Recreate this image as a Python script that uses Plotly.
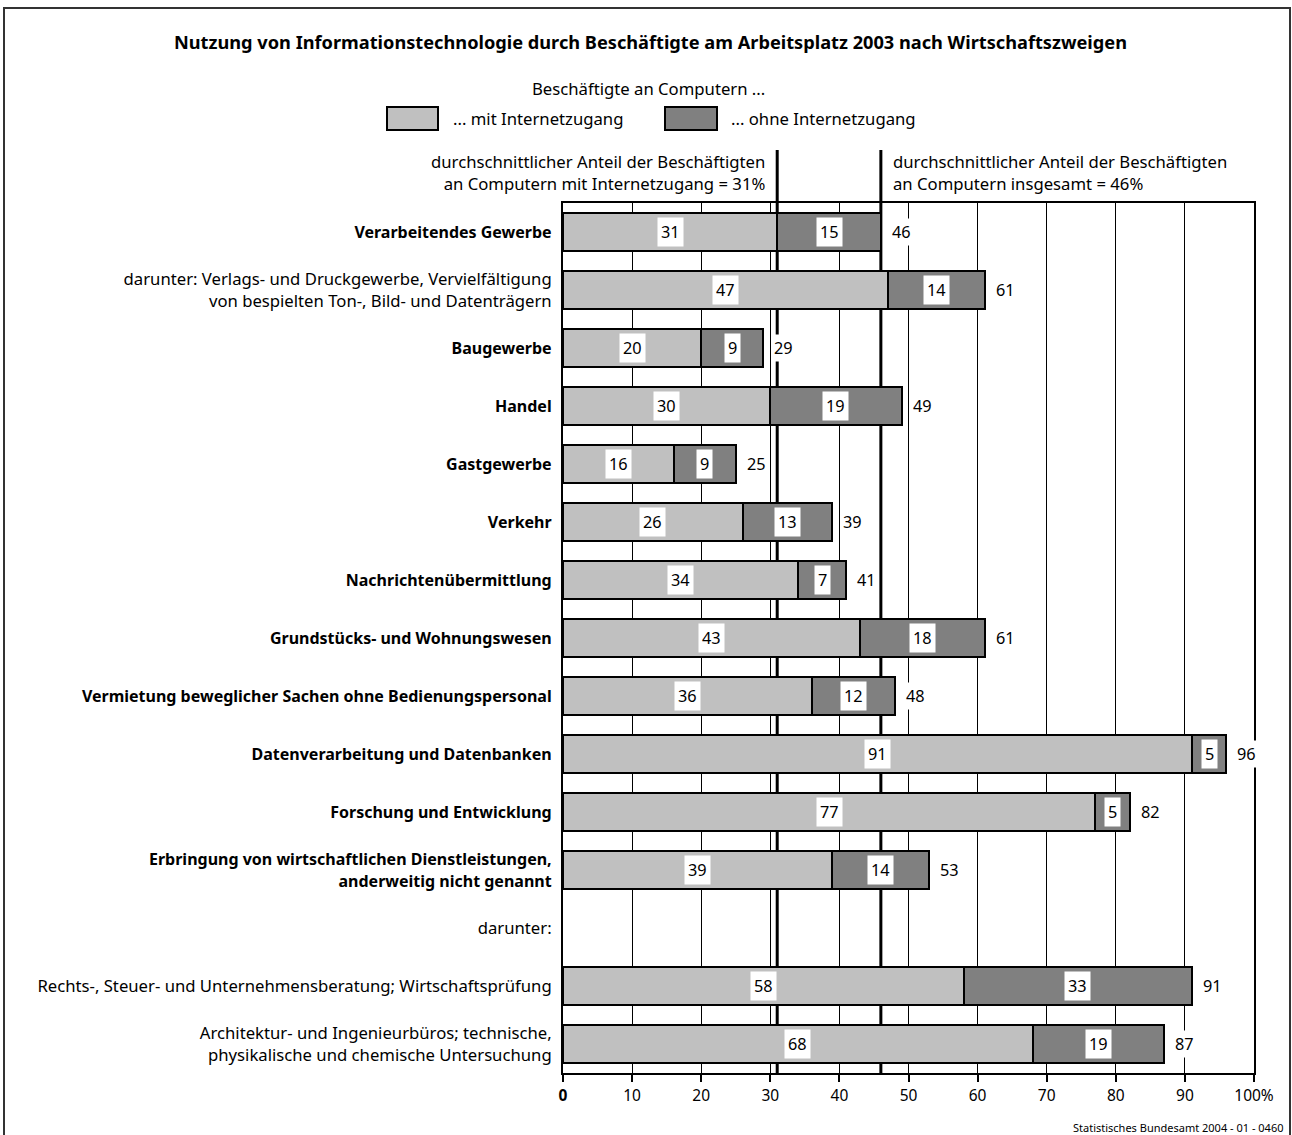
import plotly.graph_objects as go

categories = [
    "<b>Verarbeitendes Gewerbe</b>",
    "darunter: Verlags- und Druckgewerbe, Vervielfältigung<br>von bespielten Ton-, Bild- und Datenträgern",
    "<b>Baugewerbe</b>",
    "<b>Handel</b>",
    "<b>Gastgewerbe</b>",
    "<b>Verkehr</b>",
    "<b>Nachrichtenübermittlung</b>",
    "<b>Grundstücks- und Wohnungswesen</b>",
    "<b>Vermietung beweglicher Sachen ohne Bedienungspersonal</b>",
    "<b>Datenverarbeitung und Datenbanken</b>",
    "<b>Forschung und Entwicklung</b>",
    "<b>Erbringung von wirtschaftlichen Dienstleistungen,<br>anderweitig nicht genannt</b>",
    "darunter:",
    "Rechts-, Steuer- und Unternehmensberatung; Wirtschaftsprüfung",
    "Architektur- und Ingenieurbüros; technische,<br>physikalische und chemische Untersuchung",
]
mit_internet = [31, 47, 20, 30, 16, 26, 34, 43, 36, 91, 77, 39, None, 58, 68]
ohne_internet = [15, 14, 9, 19, 9, 13, 7, 18, 12, 5, 5, 14, None, 33, 19]
insgesamt = [46, 61, 29, 49, 25, 39, 41, 61, 48, 96, 82, 53, None, 91, 87]

avg_mit = 31
avg_gesamt = 46

x_tickvals = [0, 10, 20, 30, 40, 50, 60, 70, 80, 90, 100]
x_ticktext = ["<b>0</b>", "10", "20", "30", "40", "50", "60", "70", "80", "90", "100%"]

FONT = "Noto Sans"
W, H = 1292, 1135
ML, MR, MT, MB = 563, 38, 203, 62
PW = W - ML - MR
PH = H - MT - MB


def px2x(p):
    return (p - ML) / PW


def px2y(q):
    return (H - MB - q) / PH


def tick_label(s):
    # bold labels set slightly smaller to match the reference's semibold weight
    if s.startswith("<b>"):
        return '<span style="font-size:16px">' + s + "</span>"
    return s


ypos = list(range(len(categories)))

fig = go.Figure()
fig.add_trace(go.Bar(
    y=ypos, x=mit_internet, orientation="h", width=0.67,
    marker=dict(color="#c0c0c0", line=dict(color="black", width=2)),
    name="... mit Internetzugang", hoverinfo="x+name",
))
fig.add_trace(go.Bar(
    y=ypos, x=ohne_internet, orientation="h", width=0.67,
    marker=dict(color="#808080", line=dict(color="black", width=2)),
    name="... ohne Internetzugang", hoverinfo="x+name",
))

LBL = dict(family=FONT, size=16.3, color="black")
annotations = []
for i in ypos:
    a, b, t = mit_internet[i], ohne_internet[i], insgesamt[i]
    if a is None:
        continue
    annotations.append(dict(x=a / 2, y=i, xref="x", yref="y", text=str(a), showarrow=False,
                            xanchor="center", yanchor="middle",
                            bgcolor="white", borderpad=3, font=LBL))
    annotations.append(dict(x=a + b / 2, y=i, xref="x", yref="y", text=str(b), showarrow=False,
                            xanchor="center", yanchor="middle",
                            bgcolor="white", borderpad=3, font=LBL))
    annotations.append(dict(x=t, y=i, xref="x", yref="y", text=str(t), showarrow=False,
                            xanchor="left", yanchor="middle", xshift=8, bgcolor="white", borderpad=2,
                            font=LBL))

TXT = dict(family=FONT, size=16.7, color="black")
annotations += [
    dict(x=px2x(650), y=px2y(42), xref="paper", yref="paper", xanchor="center", yanchor="middle",
         text="<b>Nutzung von Informationstechnologie durch Beschäftigte am Arbeitsplatz 2003 nach Wirtschaftszweigen</b>",
         showarrow=False, font=dict(family=FONT, size=18.2, color="black")),
    dict(x=px2x(648), y=px2y(88), xref="paper", yref="paper", xanchor="center", yanchor="middle",
         text="Beschäftigte an Computern ...", showarrow=False, font=TXT),
    dict(x=px2x(451), y=px2y(118), xref="paper", yref="paper", xanchor="left", yanchor="middle",
         text="... mit Internetzugang", showarrow=False, font=TXT),
    dict(x=px2x(729), y=px2y(118), xref="paper", yref="paper", xanchor="left", yanchor="middle",
         text="... ohne Internetzugang", showarrow=False, font=TXT),
    dict(x=avg_mit, y=px2y(173), xref="x", yref="paper", xanchor="right", yanchor="middle",
         xshift=-10, align="right",
         text="durchschnittlicher Anteil der Beschäftigten<br>an Computern mit Internetzugang = " + str(avg_mit) + "%",
         showarrow=False, font=TXT),
    dict(x=avg_gesamt, y=px2y(173), xref="x", yref="paper", xanchor="left", yanchor="middle",
         xshift=10, align="left",
         text="durchschnittlicher Anteil der Beschäftigten<br>an Computern insgesamt = " + str(avg_gesamt) + "%",
         showarrow=False, font=TXT),
    dict(x=px2x(1285), y=px2y(1127), xref="paper", yref="paper", xanchor="right", yanchor="middle",
         text="Statistisches Bundesamt 2004 - 01 - 0460",
         showarrow=False, font=dict(family=FONT, size=11, color="black")),
]

shapes = [
    dict(type="line", xref="x", yref="paper", x0=avg_mit, x1=avg_mit, y0=0, y1=px2y(150),
         line=dict(color="black", width=3), layer="between"),
    dict(type="line", xref="x", yref="paper", x0=avg_gesamt, x1=avg_gesamt, y0=0, y1=px2y(150),
         line=dict(color="black", width=3), layer="between"),
    dict(type="rect", xref="paper", yref="paper", x0=px2x(387), x1=px2x(438), y0=px2y(107), y1=px2y(130),
         fillcolor="#c0c0c0", line=dict(color="black", width=2)),
    dict(type="rect", xref="paper", yref="paper", x0=px2x(665), x1=px2x(717), y0=px2y(107), y1=px2y(130),
         fillcolor="#808080", line=dict(color="black", width=2)),
    dict(type="rect", xref="paper", yref="paper", x0=px2x(4), x1=px2x(1290), y0=px2y(1145), y1=px2y(8),
         line=dict(color="#333333", width=2), fillcolor="rgba(0,0,0,0)"),
]

fig.update_layout(
    width=W, height=H,
    margin=dict(l=ML, r=MR, t=MT, b=MB, pad=0),
    barmode="stack",
    showlegend=False,
    paper_bgcolor="white", plot_bgcolor="white",
    font=dict(family=FONT, size=16, color="black"),
    annotations=annotations,
    shapes=shapes,
    xaxis=dict(range=[0, 100], tickvals=x_tickvals, ticktext=x_ticktext,
               showgrid=True, gridcolor="black", gridwidth=1, zeroline=False,
               showline=True, linecolor="black", linewidth=2, mirror=True,
               ticks="outside", ticklen=7, tickwidth=2, tickcolor="black",
               tickfont=dict(family=FONT, size=15.5, color="black"), fixedrange=True),
    yaxis=dict(range=[len(categories) - 0.5, -0.5], tickvals=ypos,
               ticktext=[tick_label(c) for c in categories],
               showgrid=False, zeroline=False,
               showline=True, linecolor="black", linewidth=2, mirror=True,
               ticks="", ticklabelstandoff=6,
               tickfont=dict(family=FONT, size=16.7, color="black"), fixedrange=True),
)

fig.write_html("out.html")
